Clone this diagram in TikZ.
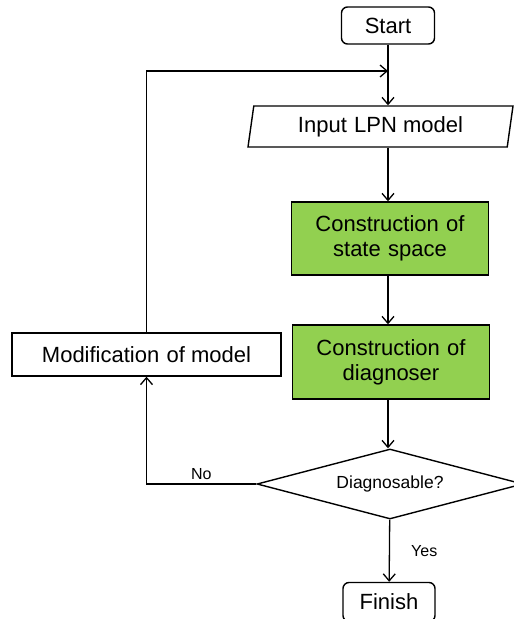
\documentclass[tikz,border=0pt]{standalone}
\usepackage{fontspec}
\setmainfont{Liberation Sans}
\usetikzlibrary{shapes.geometric,arrows.meta}
\definecolor{stepGreen}{RGB}{146,208,80}

\begin{document}
\begin{tikzpicture}[x=1pt, y=-1pt, >={Straight Barb[length=7pt,width=12pt]},
  every node/.style={font=\fontsize{22}{25}\selectfont, align=center, line width=1.4pt}]
\useasboundingbox (0,0) rectangle (514,619);
% Terminals
\node[draw, rounded corners=6pt, minimum width=93pt, minimum height=37pt] (start) at (388,25.5) {Start};
\node[draw, rounded corners=6pt, minimum width=92pt, minimum height=39pt] (finish) at (389,602) {Finish};

% Process steps
\node[draw, trapezium, trapezium left angle=78, trapezium right angle=102, trapezium stretches body, minimum width=265pt, minimum height=41pt] (input) at (380.5,126.5) {Input\,\,LPN model};
\node[draw, fill=stepGreen, minimum width=196pt, minimum height=73pt, text width=190pt] (space) at (390,238.5) {Construction of\\state space};
\node[draw, fill=stepGreen, minimum width=196pt, minimum height=74pt, text width=190pt] (diag) at (391,362) {Construction of\\diagnoser};
\node[draw, minimum width=269pt, minimum height=43pt] (modif) at (146.5,354.5) {Modification\,\,of model};

% Decision
\node[draw, diamond, aspect=3.8, inner sep=0pt, minimum width=266pt, minimum height=70pt, font=\fontsize{17.5}{20}\selectfont] (check) at (390,484) {Diagnosable?};
\coordinate (join) at (388,71);

% Arrows
\draw[->, line width=1.3pt] (start) -- (start |- input.north);
\draw[->, line width=1.3pt] (start |- input.south) -- (start |- space.north);
\draw[->, line width=1.3pt] (start |- space.south) -- (start |- diag.north);
\draw[->, line width=1.3pt] (start |- diag.south) -- (start |- check.north);
\draw[->, line width=1.3pt] (check) -- node[right=21pt, inner sep=0pt, font=\fontsize{16}{18}\selectfont] {Yes} (finish);
\draw[->, line width=1.3pt] (check.west) -| node[above=4pt, pos=0.25, inner sep=0pt, font=\fontsize{16}{18}\selectfont] {No} (modif.south);
\draw[->, line width=1.3pt] (modif.north) |- (join);
\end{tikzpicture}
\end{document}
